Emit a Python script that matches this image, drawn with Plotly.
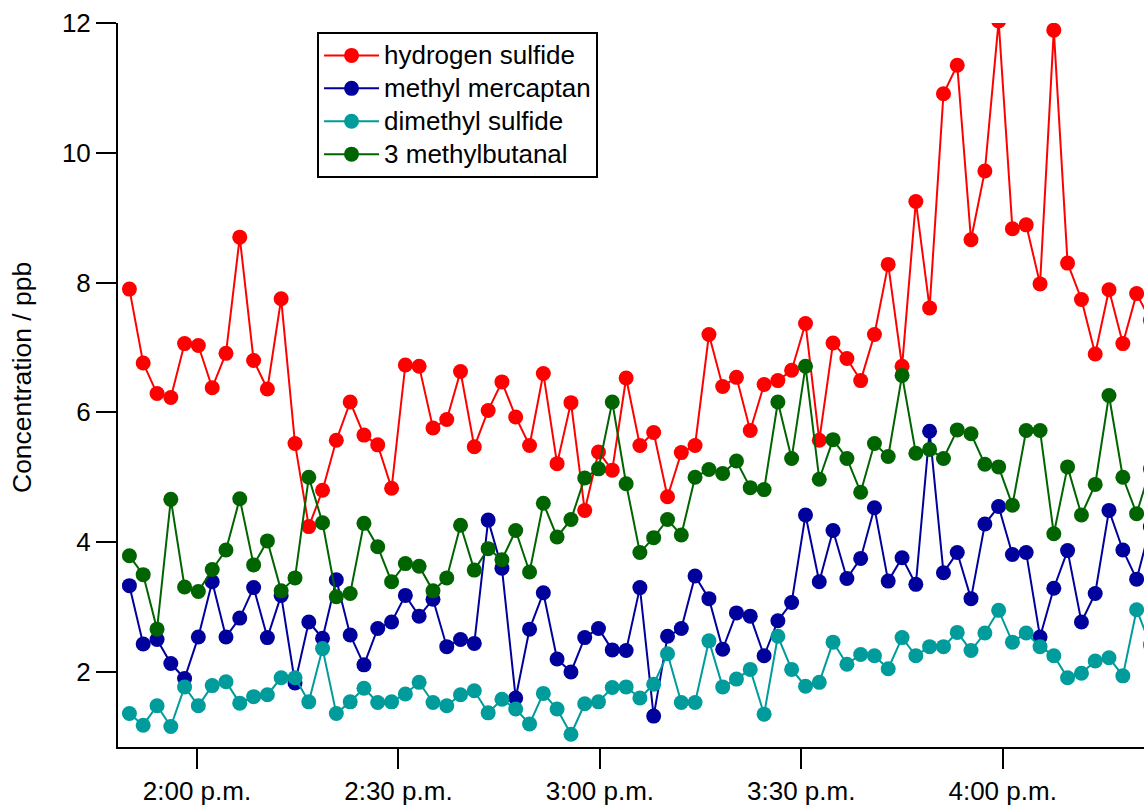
import plotly.graph_objects as go

DATE = "2015-06-10"

times = [
    "13:49:56", "13:51:59", "13:54:03", "13:56:06", "13:58:09", "14:00:12", "14:02:16", "14:04:19",
    "14:06:22", "14:08:26", "14:10:29", "14:12:32", "14:14:36", "14:16:39", "14:18:42", "14:20:45",
    "14:22:49", "14:24:52", "14:26:55", "14:28:59", "14:31:02", "14:33:05", "14:35:09", "14:37:12",
    "14:39:15", "14:41:18", "14:43:22", "14:45:25", "14:47:28", "14:49:32", "14:51:35", "14:53:38",
    "14:55:42", "14:57:45", "14:59:48", "15:01:51", "15:03:55", "15:05:58", "15:08:01", "15:10:05",
    "15:12:08", "15:14:11", "15:16:15", "15:18:18", "15:20:21", "15:22:24", "15:24:28", "15:26:31",
    "15:28:34", "15:30:38", "15:32:41", "15:34:44", "15:36:48", "15:38:51", "15:40:54", "15:42:57",
    "15:45:01", "15:47:04", "15:49:07", "15:51:11", "15:53:14", "15:55:17", "15:57:21", "15:59:24",
    "16:01:27", "16:03:30", "16:05:34", "16:07:37", "16:09:40", "16:11:44", "16:13:47", "16:15:50",
    "16:17:54", "16:19:57", "16:22:00",
]

hydrogen_sulfide = [
    7.90, 6.76, 6.29, 6.23, 7.06, 7.03, 6.38, 6.91, 8.70, 6.80, 6.36, 7.75, 5.52, 4.24, 4.80, 5.57,
    6.16, 5.65, 5.50, 4.83, 6.73, 6.71, 5.76, 5.89, 6.63, 5.47, 6.03, 6.47, 5.93, 5.49, 6.60, 5.21,
    6.15, 4.49, 5.39, 5.11, 6.53, 5.49, 5.69, 4.70, 5.38, 5.49, 7.20, 6.40, 6.54, 5.72, 6.43, 6.49,
    6.65, 7.37, 5.57, 7.07, 6.83, 6.49, 7.20, 8.28, 6.71, 9.25, 7.61, 10.91, 11.35, 8.66, 9.72, 12.03,
    8.83, 8.89, 7.98, 11.89, 8.30, 7.74, 6.90, 7.89, 7.06, 7.83, 7.42,
]

methyl_mercaptan = [
    3.33, 2.43, 2.50, 2.13, 1.90, 2.54, 3.39, 2.54, 2.83, 3.30, 2.53, 3.18, 1.83, 2.77, 2.52, 3.42,
    2.57, 2.11, 2.67, 2.77, 3.18, 2.86, 3.12, 2.39, 2.50, 2.44, 4.34, 3.60, 1.60, 2.66, 3.22, 2.20,
    2.00, 2.53, 2.67, 2.34, 2.33, 3.30, 1.32, 2.55, 2.67, 3.48, 3.13, 2.35, 2.91, 2.86, 2.25, 2.79,
    3.07, 4.42, 3.39, 4.18, 3.44, 3.75, 4.53, 3.40, 3.76, 3.35, 5.71, 3.53, 3.84, 3.13, 4.28, 4.55,
    3.81, 3.84, 2.54, 3.29, 3.87, 2.77, 3.21, 4.49, 3.88, 3.43, 4.24,
]

dimethyl_sulfide = [
    1.36, 1.18, 1.48, 1.16, 1.77, 1.48, 1.79, 1.85, 1.52, 1.62, 1.65, 1.91, 1.91, 1.54, 2.36, 1.36,
    1.54, 1.75, 1.53, 1.54, 1.66, 1.84, 1.53, 1.48, 1.65, 1.71, 1.37, 1.58, 1.43, 1.20, 1.67, 1.43,
    1.04, 1.51, 1.54, 1.76, 1.77, 1.60, 1.81, 2.28, 1.53, 1.53, 2.48, 1.77, 1.89, 2.04, 1.35, 2.55,
    2.04, 1.78, 1.84, 2.46, 2.12, 2.27, 2.25, 2.05, 2.53, 2.25, 2.39, 2.39, 2.61, 2.33, 2.60, 2.95,
    2.46, 2.60, 2.39, 2.25, 1.91, 1.98, 2.17, 2.22, 1.94, 2.96, 2.42,
]

methylbutanal_3 = [
    3.79, 3.50, 2.66, 4.66, 3.31, 3.24, 3.58, 3.88, 4.67, 3.65, 4.02, 3.25, 3.45, 5.00, 4.30, 3.16,
    3.21, 4.29, 3.93, 3.39, 3.67, 3.63, 3.25, 3.45, 4.26, 3.57, 3.90, 3.73, 4.18, 3.54, 4.60, 4.08,
    4.35, 4.99, 5.13, 6.16, 4.90, 3.84, 4.07, 4.35, 4.11, 5.00, 5.12, 5.06, 5.25, 4.84, 4.81, 6.16,
    5.29, 6.71, 4.97, 5.58, 5.29, 4.77, 5.52, 5.32, 6.57, 5.37, 5.43, 5.29, 5.73, 5.67, 5.20, 5.16,
    4.57, 5.72, 5.72, 4.13, 5.16, 4.42, 4.89, 6.26, 5.00, 4.44, 5.13,
]

series_names = ["hydrogen sulfide", "methyl mercaptan", "dimethyl sulfide", "3 methylbutanal"]
series_colors = ["#ff0000", "#00009c", "#009b9b", "#006400"]

tick_times = ["14:00:00", "14:30:00", "15:00:00", "15:30:00", "16:00:00"]
tick_text = ["2:00 p.m.", "2:30 p.m.", "3:00 p.m.", "3:30 p.m.", "4:00 p.m."]

y_title = "Concentration / ppb"

x = [f"{DATE} {t}" for t in times]
tickvals = [f"{DATE} {t}" for t in tick_times]

fig = go.Figure()
for name, vals, col in zip(series_names,
                           [hydrogen_sulfide, methyl_mercaptan, dimethyl_sulfide, methylbutanal_3],
                           series_colors):
    fig.add_trace(go.Scatter(
        x=x, y=vals, mode="lines+markers",
        name=f"<span style='font-size:26px'>{name}</span>",
        line=dict(color=col, width=2),
        marker=dict(color=col, size=15, line=dict(width=0)),
    ))

FONT = "Arial, Liberation Sans, sans-serif"
fig.update_layout(
    width=1144, height=810,
    margin=dict(l=118, r=0, t=23, b=63, autoexpand=False),
    paper_bgcolor="white", plot_bgcolor="white",
    font=dict(family=FONT, size=26, color="black"),
    showlegend=True,
    legend=dict(
        x=0.194, y=0.9876, xanchor="left", yanchor="top",
        bordercolor="black", borderwidth=2, bgcolor="white",
        font=dict(family=FONT, size=23, color="black"),
        itemwidth=55, tracegroupgap=0,
    ),
    xaxis=dict(
        type="date",
        range=[f"{DATE} 13:48:14", f"{DATE} 16:21:03"],
        tickvals=tickvals, ticktext=tick_text,
        showline=True, linecolor="black", linewidth=2,
        ticks="outside", ticklen=20, tickwidth=2, tickcolor="black",
        showgrid=False, zeroline=False,
        tickfont=dict(family=FONT, size=26, color="black"),
    ),
    yaxis=dict(
        range=[0.844, 12.0],
        tickvals=[2, 4, 6, 8, 10, 12],
        showline=True, linecolor="black", linewidth=2,
        ticks="outside", ticklen=20, tickwidth=2, tickcolor="black",
        showgrid=False, zeroline=False,
        tickfont=dict(family=FONT, size=26, color="black"),
    ),
    annotations=[dict(
        text=y_title, textangle=-90, showarrow=False,
        xref="paper", yref="paper", x=-0.0936, y=0.511,
        xanchor="center", yanchor="middle",
        font=dict(family=FONT, size=26.5, color="black"),
    )],
)

fig.write_html(
    "out.html",
    config={"displayModeBar": False},
    post_script="document.body.style.margin='0';document.body.style.overflow='hidden';",
)
